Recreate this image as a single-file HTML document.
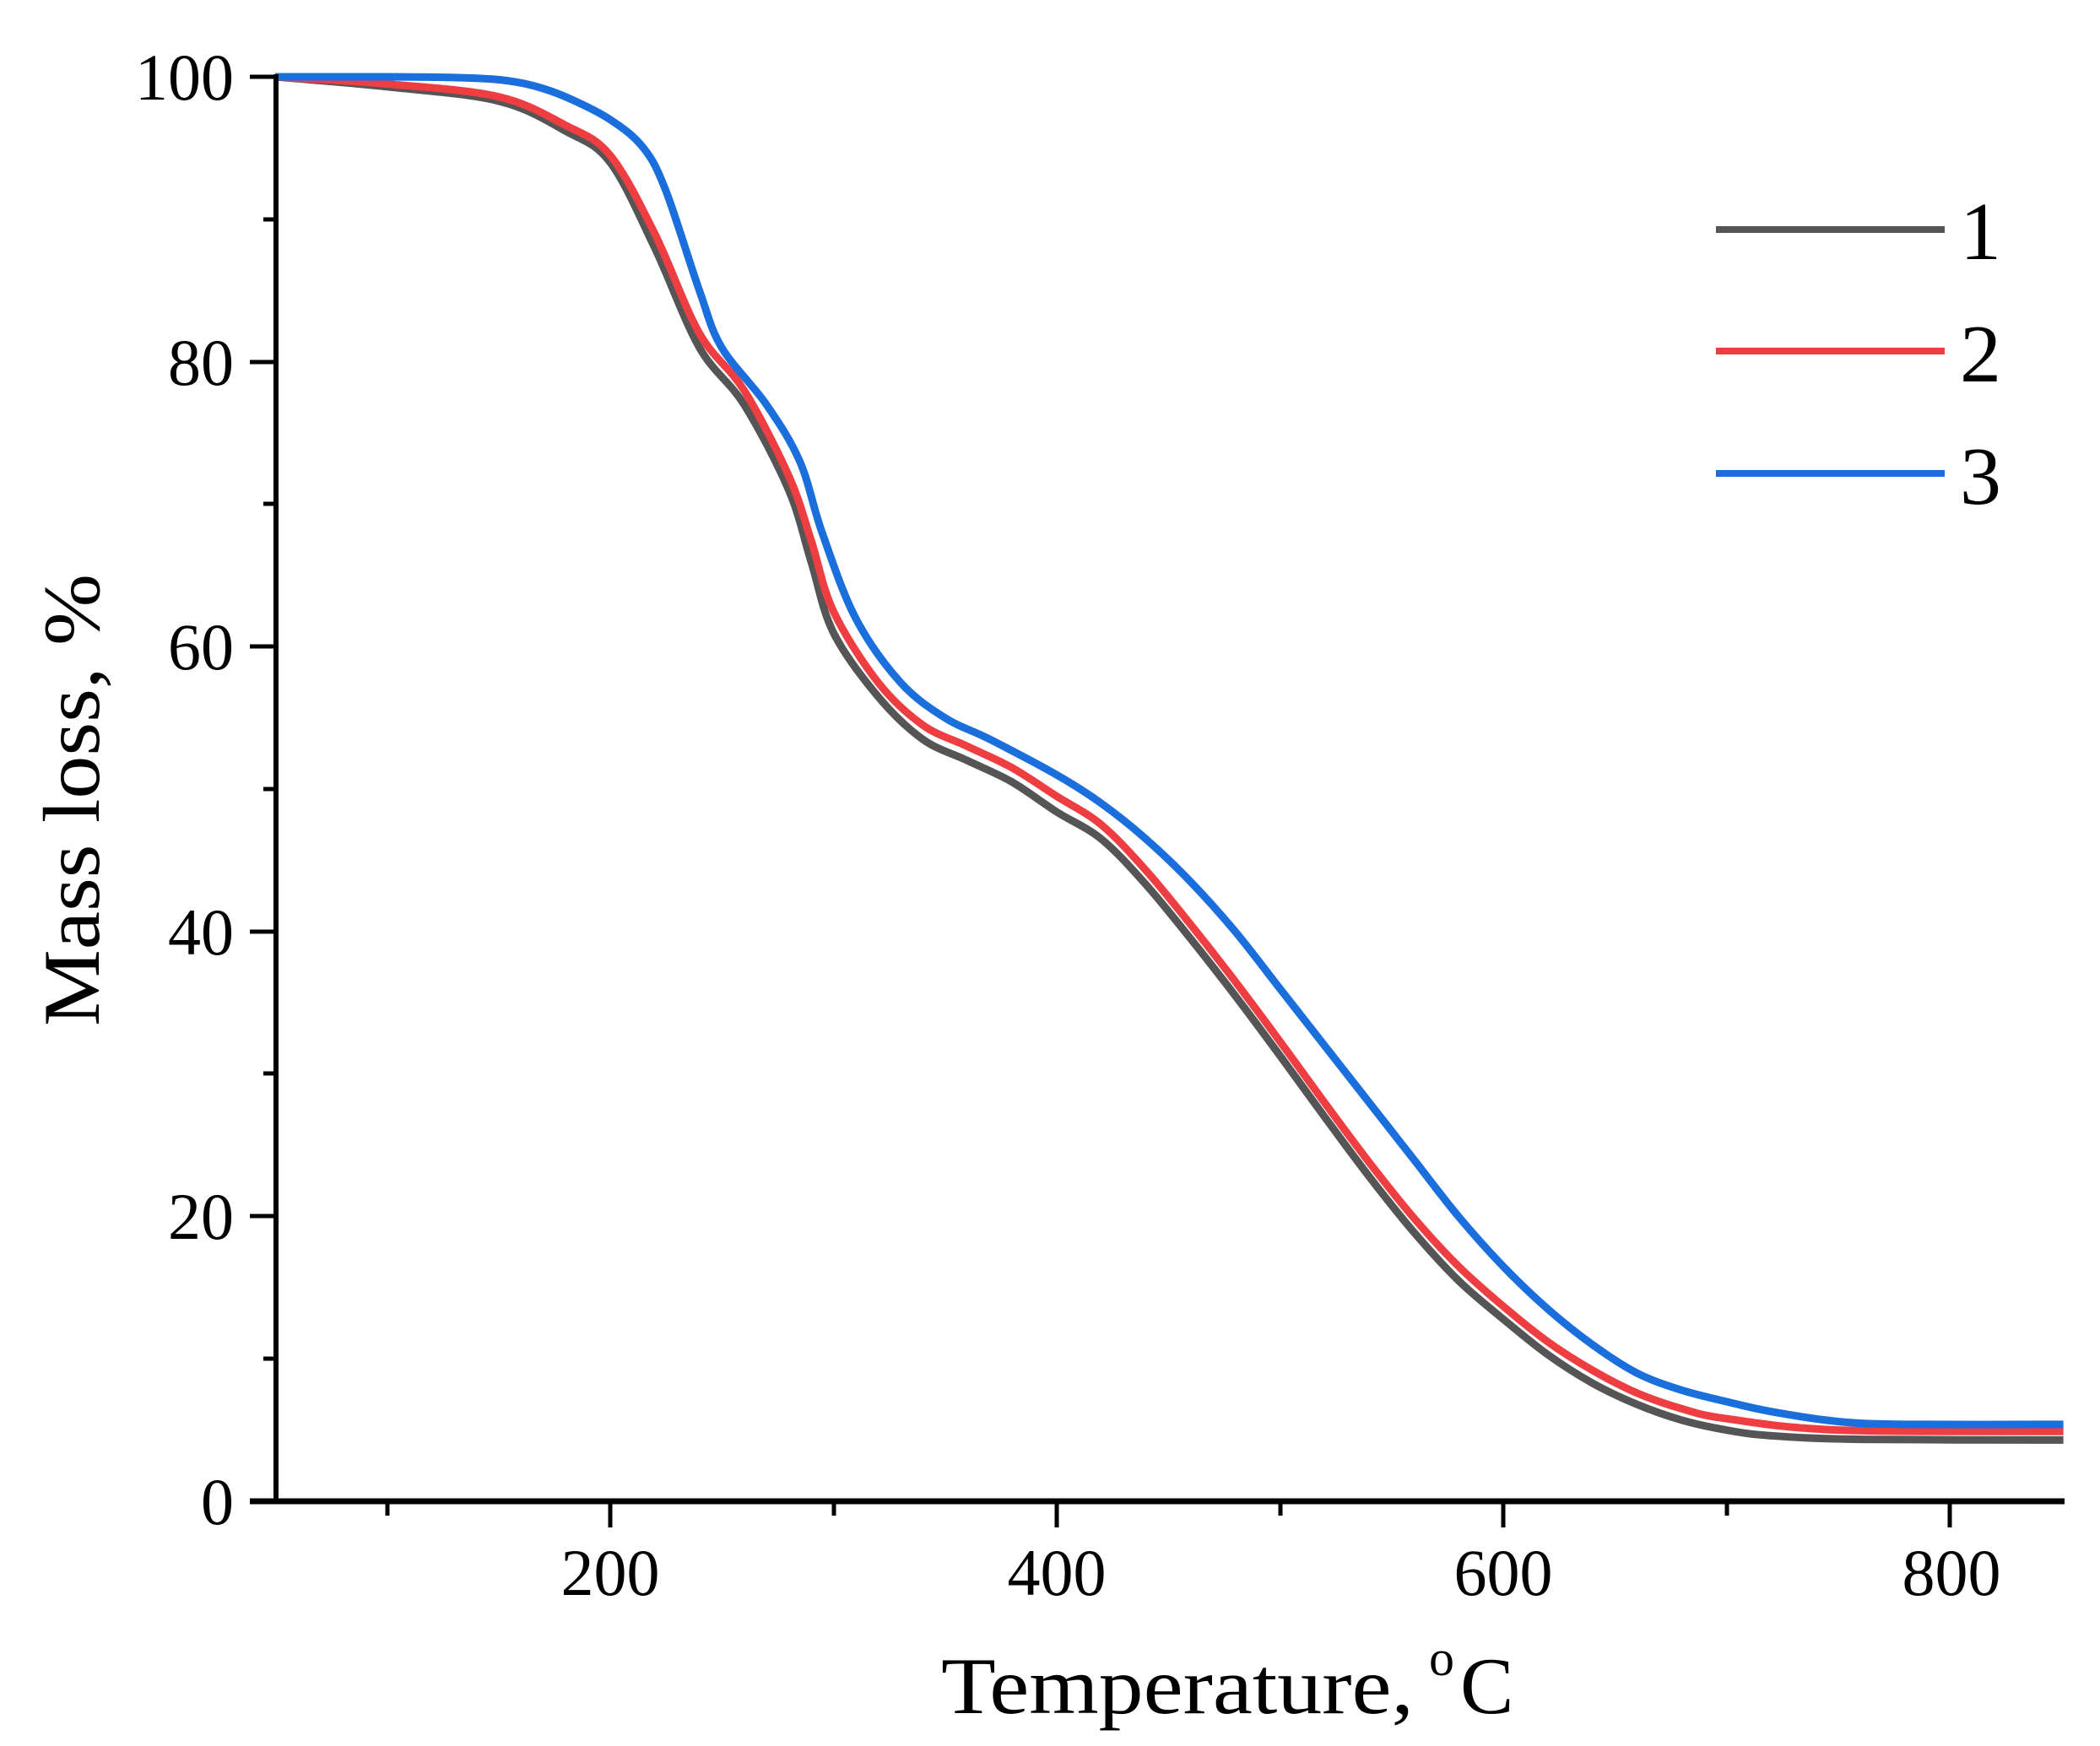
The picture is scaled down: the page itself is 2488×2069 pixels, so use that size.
<!DOCTYPE html>
<html><head><meta charset="utf-8"><style>
html,body{margin:0;padding:0;background:#fff;}
svg{display:block;}
text{font-family:"Liberation Serif",serif;fill:#000;}
</style></head><body>
<svg id="s" width="2488" height="2069" viewBox="0 0 2488 2069" xmlns="http://www.w3.org/2000/svg">
<g id="curves" fill="none" stroke-width="9" stroke-linejoin="round" stroke-linecap="butt"></g>
<line x1="327" y1="88" x2="327" y2="1782" stroke="#000" stroke-width="6"/>
<line x1="296" y1="1779" x2="2446" y2="1779" stroke="#000" stroke-width="7"/>
<g stroke="#000" stroke-width="5">
<line x1="296" y1="91" x2="327" y2="91"/>
<line x1="296" y1="429" x2="327" y2="429"/>
<line x1="296" y1="766" x2="327" y2="766"/>
<line x1="296" y1="1104" x2="327" y2="1104"/>
<line x1="296" y1="1441" x2="327" y2="1441"/>
<line x1="312" y1="260" x2="327" y2="260"/>
<line x1="312" y1="597" x2="327" y2="597"/>
<line x1="312" y1="935" x2="327" y2="935"/>
<line x1="312" y1="1272" x2="327" y2="1272"/>
<line x1="312" y1="1610" x2="327" y2="1610"/>
<line x1="723" y1="1779" x2="723" y2="1810"/>
<line x1="1252" y1="1779" x2="1252" y2="1810"/>
<line x1="1781" y1="1779" x2="1781" y2="1810"/>
<line x1="2310" y1="1779" x2="2310" y2="1810"/>
<line x1="459" y1="1779" x2="459" y2="1796"/>
<line x1="988" y1="1779" x2="988" y2="1796"/>
<line x1="1517" y1="1779" x2="1517" y2="1796"/>
<line x1="2046" y1="1779" x2="2046" y2="1796"/>
</g>
<g font-size="78" text-anchor="end">
<text x="277" y="118">100</text>
<text x="277" y="456">80</text>
<text x="277" y="793">60</text>
<text x="277" y="1131">40</text>
<text x="277" y="1468">20</text>
<text x="277" y="1806">0</text>
</g>
<g font-size="78" text-anchor="middle">
<text x="723" y="1890">200</text>
<text x="1252" y="1890">400</text>
<text x="1781" y="1890">600</text>
<text x="2312" y="1890">800</text>
</g>
<text x="1115" y="2030" font-size="95" textLength="560" lengthAdjust="spacingAndGlyphs">Temperature,</text>
<text x="1693" y="1985" font-size="60">o</text>
<text x="1730" y="2030" font-size="95">C</text>
<text transform="translate(117,948) rotate(-90)" font-size="95" text-anchor="middle" textLength="536" lengthAdjust="spacingAndGlyphs">Mass loss, %</text>
<line x1="2033" y1="272" x2="2304" y2="272" stroke="#555555" stroke-width="8"/>
<line x1="2033" y1="416" x2="2304" y2="416" stroke="#ef3e42" stroke-width="8"/>
<line x1="2033" y1="561" x2="2304" y2="561" stroke="#1a6fdd" stroke-width="8"/>
<g font-size="98">
<text x="2322" y="307">1</text>
<text x="2322" y="452">2</text>
<text x="2322" y="597">3</text>
</g>
</svg>
<script>
var X=function(t){return 326+(t-50)*2.645;},Y=function(v){return 1779-v*16.88;};
var data={
"#555555":[[50,100],[100,99.3],[150,98.3],[180,96.2],[200,94],[220,88],[240,81],[260,77],[280,71],[290,66],[300,61],[320,56.5],[340,53.5],[360,52],[380,50.5],[400,48.4],[420,46.5],[440,43.3],[460,39.5],[480,35.5],[500,31.3],[520,27],[540,22.8],[560,18.9],[580,15.5],[600,12.8],[620,10.3],[640,8.3],[660,6.8],[680,5.7],[700,5.0],[720,4.6],[760,4.35],[851,4.3]],
"#ef3e42":[[50,100],[100,99.5],[150,98.6],[180,96.6],[200,94.5],[220,89],[240,82],[260,78],[280,72],[290,67.5],[300,62.5],[320,57.5],[340,54.5],[360,53],[380,51.5],[400,49.5],[420,47.5],[440,44.3],[460,40.5],[480,36.5],[500,32.3],[520,28],[540,23.8],[560,19.9],[580,16.5],[600,13.7],[620,11.2],[640,9.2],[660,7.6],[680,6.5],[700,5.8],[750,5.0],[851,4.9]],
"#1a6fdd":[[50,100],[100,100],[130,99.95],[150,99.8],[165,99.4],[180,98.6],[200,97],[215,95],[225,92],[240,85],[250,81],[270,77],[285,73],[295,68],[310,62],[330,57.5],[350,55],[370,53.5],[400,51],[420,49],[440,46.5],[460,43.5],[480,40],[500,36],[520,32],[540,28],[560,24],[580,20],[600,16.5],[620,13.5],[640,11],[660,9],[680,7.8],[700,7],[720,6.3],[750,5.6],[780,5.4],[851,5.4]]};
var g=document.getElementById('curves');
for(var c in data){var p=data[c].map(function(d){return [X(d[0]),Y(d[1])];});
var s="M"+p[0][0]+","+p[0][1];
for(var i=0;i<p.length-1;i++){var p0=p[i-1]||p[i],p1=p[i],p2=p[i+1],p3=p[i+2]||p2;
s+=" C"+(p1[0]+(p2[0]-p0[0])/6)+","+(p1[1]+(p2[1]-p0[1])/6)+" "+(p2[0]-(p3[0]-p1[0])/6)+","+(p2[1]-(p3[1]-p1[1])/6)+" "+p2[0]+","+p2[1];}
var e=document.createElementNS("http://www.w3.org/2000/svg","path");e.setAttribute("d",s);e.setAttribute("stroke",c);g.appendChild(e);}
</script>
</body></html>
